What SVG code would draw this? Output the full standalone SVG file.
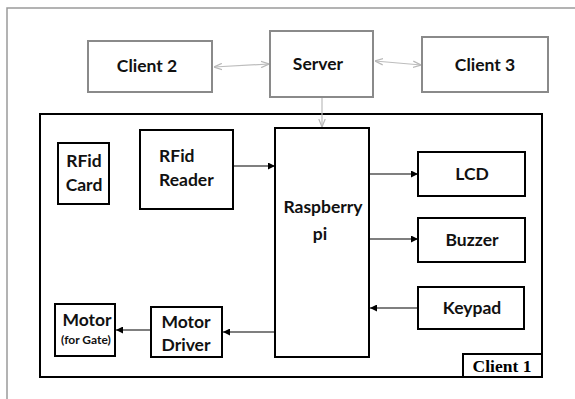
<svg xmlns="http://www.w3.org/2000/svg" width="575" height="399" viewBox="0 0 575 399">
<defs>
<marker id="ah" viewBox="0 0 10 10" refX="10" refY="5" markerWidth="7" markerHeight="7" markerUnits="userSpaceOnUse" orient="auto"><path d="M0,0 L10,5 L0,10 z" fill="#000"/></marker>
<marker id="gh" viewBox="0 0 10 10" refX="10" refY="5" markerWidth="8" markerHeight="8" markerUnits="userSpaceOnUse" orient="auto-start-reverse"><path d="M0,1 L10,5 L0,9" fill="none" stroke="#b8b8b8" stroke-width="1.5"/></marker>
<style>
.g{fill:#fff;stroke:#8a8a8a;stroke-width:2}
.b{fill:#fff;stroke:#000;stroke-width:2}
.t{font-family:Lato,"Liberation Sans",sans-serif;font-weight:bold;fill:#111;font-size:17.5px}
.s{font-size:12px}
.c{stroke:#000;stroke-width:1.2;fill:none;marker-end:url(#ah)}
.gc{stroke:#bdbdbd;stroke-width:1.2;fill:none}
</style>
</defs>
<rect width="575" height="399" fill="#fff"/>
<path d="M7,400 L7,8 L575,8" fill="none" stroke="#9a9a9a" stroke-width="1.5"/>
<g id="client1-frame">
<rect x="40" y="114" width="502" height="263" fill="none" stroke="#000" stroke-width="2"/>
<rect x="463" y="354" width="79" height="23" class="b"/>
<text x="502" y="372" text-anchor="middle" font-family="'Liberation Serif',serif" font-weight="bold" font-size="17.5">Client 1</text>
</g>
<g id="client2"><rect x="88" y="41" width="124" height="51" class="g"/><text class="t" x="147" y="72" text-anchor="middle">Client 2</text></g>
<g id="server"><rect x="270" y="31" width="103" height="66" class="g" stroke-width="2.5"/><text class="t" x="318" y="70" text-anchor="middle">Server</text></g>
<g id="client3"><rect x="422" y="37" width="126" height="55" class="g"/><text class="t" x="485" y="71" text-anchor="middle">Client 3</text></g>
<g id="rfid-card"><rect x="58" y="143" width="51" height="61" class="b"/><text class="t" x="84" y="167" text-anchor="middle">RFid</text><text class="t" x="84" y="191" text-anchor="middle">Card</text></g>
<g id="rfid-reader"><rect x="140" y="130" width="93" height="79" class="b"/><text class="t" x="159" y="162">RFid</text><text class="t" x="159" y="186">Reader</text></g>
<g id="raspberry"><rect x="275" y="128" width="94" height="229" class="b" stroke-width="2.5"/><text class="t" x="323" y="213" text-anchor="middle">Raspberry</text><text class="t" x="320" y="240" text-anchor="middle">pi</text></g>
<g id="lcd"><rect x="418" y="152" width="107" height="44" class="b"/><text class="t" x="472" y="180" text-anchor="middle">LCD</text></g>
<g id="buzzer"><rect x="418" y="218" width="107" height="44" class="b"/><text class="t" x="472" y="246" text-anchor="middle">Buzzer</text></g>
<g id="keypad"><rect x="418" y="287" width="106" height="42" class="b"/><text class="t" x="472" y="314" text-anchor="middle">Keypad</text></g>
<g id="motor-driver"><rect x="151" y="307" width="71" height="50" class="b"/><text class="t" x="186" y="328" text-anchor="middle">Motor</text><text class="t" x="186" y="351" text-anchor="middle">Driver</text></g>
<g id="motor"><rect x="55" y="304" width="60" height="52" class="b"/><text class="t" x="87" y="326" text-anchor="middle">Motor</text><text class="t s" x="86" y="344" text-anchor="middle">(for Gate)</text></g>
<g id="connectors">
<line class="gc" x1="214" y1="67" x2="269" y2="64" marker-start="url(#gh)" marker-end="url(#gh)"/>
<line class="gc" x1="375" y1="61" x2="421" y2="65" marker-start="url(#gh)" marker-end="url(#gh)"/>
<line class="gc" x1="322" y1="98" x2="322" y2="127" marker-end="url(#gh)"/>
<line class="c" x1="233" y1="166" x2="275" y2="166"/>
<line class="c" x1="369" y1="174" x2="418" y2="174"/>
<line class="c" x1="369" y1="239" x2="418" y2="239"/>
<line class="c" x1="418" y1="308" x2="370" y2="308"/>
<line class="c" x1="275" y1="332" x2="223" y2="332"/>
<line class="c" x1="151" y1="330" x2="116" y2="330"/>
</g>
</svg>
